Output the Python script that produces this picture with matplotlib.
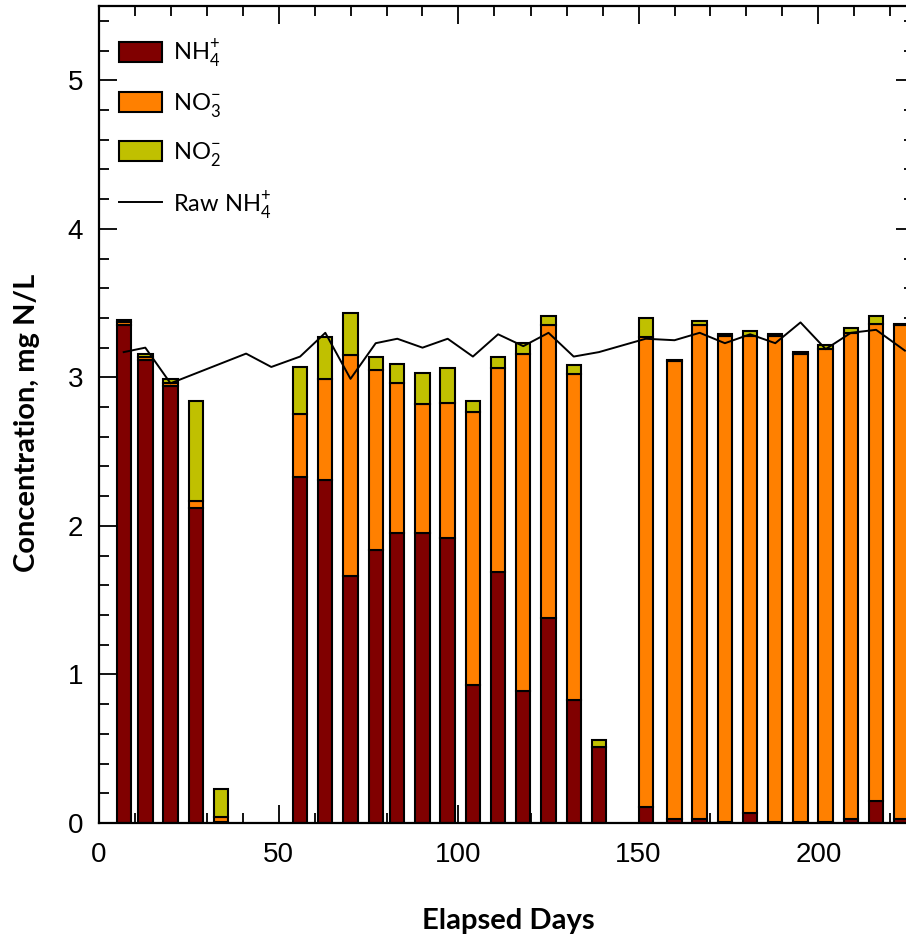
import matplotlib
matplotlib.use("Agg")
import matplotlib.pyplot as plt
from matplotlib.ticker import MultipleLocator
from matplotlib.patches import Patch
from matplotlib.lines import Line2D
import numpy as np

plt.rcParams['font.family'] = ['Lato', 'DejaVu Sans']
plt.rcParams['mathtext.fontset'] = 'custom'
plt.rcParams['mathtext.rm'] = 'Lato'

# ---- data ----
bar_days = [7, 13, 20, 27, 34, 56, 63, 70, 77, 83, 90, 97, 104, 111, 118, 125, 132, 139,
            152, 160, 167, 174, 181, 188, 195, 202, 209, 216, 223]
nh4 = [3.35, 3.12, 2.94, 2.12, 0.01, 2.33, 2.31, 1.66, 1.84, 1.95, 1.95, 1.92, 0.93, 1.69,
       0.89, 1.38, 0.83, 0.51, 0.11, 0.03, 0.03, 0.01, 0.07, 0.01, 0.01, 0.01, 0.03, 0.15, 0.03]
no3 = [0.02, 0.02, 0.02, 0.05, 0.03, 0.42, 0.68, 1.49, 1.21, 1.01, 0.87, 0.91, 1.84, 1.37,
       2.27, 1.97, 2.19, 0.00, 3.16, 3.08, 3.32, 3.27, 3.21, 3.27, 3.15, 3.18, 3.27, 3.21, 3.32]
no2 = [0.015, 0.015, 0.03, 0.67, 0.19, 0.32, 0.28, 0.28, 0.09, 0.13, 0.21, 0.23, 0.07, 0.08,
       0.07, 0.06, 0.06, 0.05, 0.13, 0.01, 0.03, 0.01, 0.03, 0.01, 0.01, 0.03, 0.03, 0.05, 0.01]

raw_days = [7, 13, 20, 41, 48, 56, 63, 70, 77, 83, 90, 97, 104, 111, 118, 125, 132, 139,
            152, 160, 167, 174, 181, 188, 195, 202, 209, 216, 224]
raw_nh4 = [3.17, 3.20, 2.96, 3.16, 3.07, 3.14, 3.30, 2.99, 3.23, 3.26, 3.20, 3.26, 3.14, 3.29,
           3.21, 3.30, 3.14, 3.17, 3.26, 3.25, 3.30, 3.23, 3.29, 3.23, 3.37, 3.19, 3.30, 3.32, 3.18]

labels = [r'NH$_\mathregular{4}^\mathregular{+}$', r'NO$_\mathregular{3}^\mathregular{-}$',
          r'NO$_\mathregular{2}^\mathregular{-}$', r'Raw NH$_\mathregular{4}^\mathregular{+}$']
colors = ['#800000', '#FF8000', '#C0C000']

# ---- figure ----
W, H = 906, 938
fig = plt.figure(figsize=(W / 100, H / 100), dpi=100)
left_px, right_px, top_px, bottom_px = 98.5, 914, 6, 823
ax = fig.add_axes([left_px / W, (H - bottom_px) / H, (right_px - left_px) / W, (bottom_px - top_px) / H])

nh4_a = np.array(nh4)
no3_a = np.array(no3)
no2_a = np.array(no2)
bw = 4.0
ax.bar(bar_days, nh4_a, width=bw, color=colors[0], edgecolor='black', linewidth=1.5, zorder=2)
ax.bar(bar_days, no3_a, width=bw, bottom=nh4_a, color=colors[1], edgecolor='black', linewidth=1.5, zorder=2)
ax.bar(bar_days, no2_a, width=bw, bottom=nh4_a + no3_a, color=colors[2], edgecolor='black', linewidth=1.5, zorder=2)
ax.plot(raw_days, raw_nh4, color='black', linewidth=1.4, zorder=3)

ax.set_xlim(0, (right_px - left_px) / 3.6)
ax.set_ylim(0, 5.5)

ax.xaxis.set_major_locator(MultipleLocator(50))
ax.xaxis.set_minor_locator(MultipleLocator(10))
ax.yaxis.set_major_locator(MultipleLocator(1))
ax.yaxis.set_minor_locator(MultipleLocator(0.2))
ax.tick_params(which='both', direction='in', top=True, right=True, width=1.3,
               labelsize=20, labelfontfamily='Liberation Sans')
ax.tick_params(which='major', length=13)
ax.tick_params(which='minor', length=7)
ax.tick_params(axis='x', pad=14)
ax.tick_params(axis='y', pad=11)
for s in ax.spines.values():
    s.set_linewidth(1.6)

ax.set_xlabel('Elapsed Days', fontsize=21, fontweight='bold')
ax.set_ylabel('Concentration, mg N/L', fontsize=21, fontweight='bold')
ax.xaxis.label.set_va('center')
ax.yaxis.label.set_va('center')
ax.xaxis.set_label_coords((508 - left_px) / (right_px - left_px), -(921 - bottom_px) / (bottom_px - top_px))
ax.yaxis.set_label_coords(-(left_px - 27) / (right_px - left_px), (bottom_px - 423) / (bottom_px - top_px))

handles = [Patch(facecolor=c, edgecolor='black', linewidth=1.5) for c in colors]
handles.append(Line2D([0], [0], color='black', linewidth=1.4))
leg = ax.legend(handles, labels, loc='upper left', frameon=False, fontsize=17,
                handlelength=1.82, handleheight=0.93, labelspacing=0.88,
                handletextpad=0.45, borderaxespad=0.0,
                bbox_to_anchor=((110 - left_px) / (right_px - left_px), (bottom_px - 28) / (bottom_px - top_px)))

fig.savefig('out.png', dpi=100)
